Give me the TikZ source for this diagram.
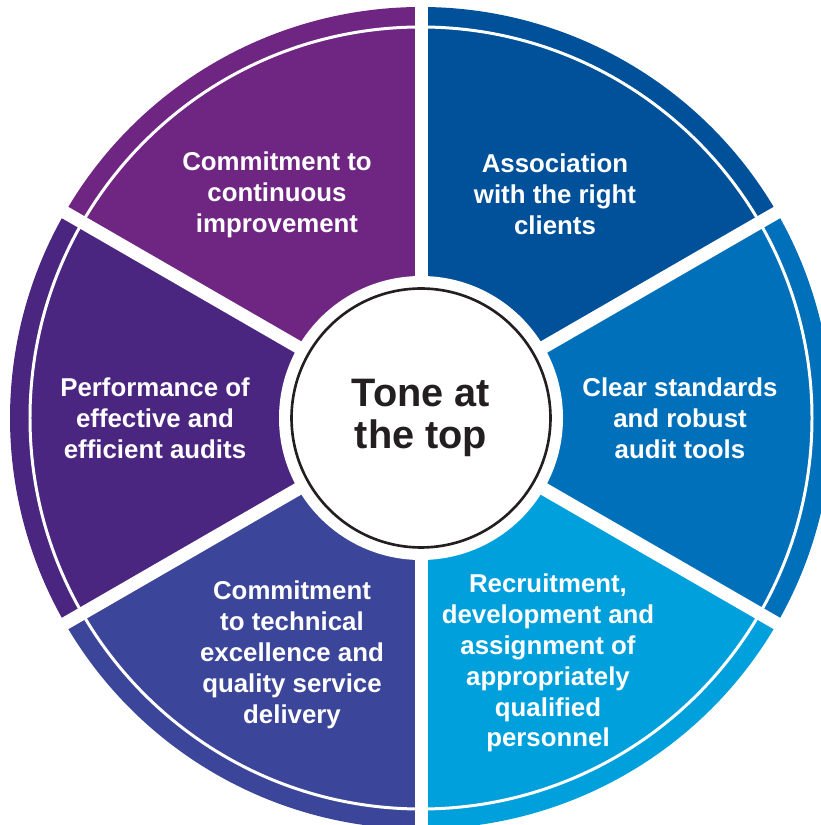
\documentclass[tikz,border=0pt]{standalone}
\usepackage{fontspec}
\setmainfont{Liberation Sans}
\definecolor{ImprovePurple}{RGB}{111, 38, 131}
\definecolor{ClientBlue}{RGB}{0, 80, 154}
\definecolor{ToolsBlue}{RGB}{0, 112, 186}
\definecolor{PeopleBlue}{RGB}{0, 160, 220}
\definecolor{QualityIndigo}{RGB}{59, 69, 153}
\definecolor{AuditViolet}{RGB}{74, 38, 128}
\definecolor{HubInk}{RGB}{35, 31, 32}

\begin{document}
\begin{tikzpicture}[x=0.02cm, y=0.02cm]
        % --- Styles ---
        \tikzstyle{segtext}=[text=white, align=center, font=\fontsize{14.7}{17.6}\selectfont\bfseries]
        \tikzstyle{hubtext}=[text=HubInk, align=center, font=\fontsize{22.6}{23.4}\selectfont\bfseries]

        \useasboundingbox (0,0) rectangle (821,825);
        \clip (0,0) rectangle (821,825);
        \coordinate (c) at (421,407);

        % --- 1. Coloured wheel ---
        \foreach \from/\to/\col in {30/90/ClientBlue, -30/30/ToolsBlue, -90/-30/PeopleBlue,
                                    -150/-90/QualityIndigo, 150/210/AuditViolet, 90/150/ImprovePurple}
            \fill[\col] (c) -- ++(\from:411) arc[start angle=\from, end angle=\to, radius=411] -- cycle;

        % thin ring near the rim
        \draw[white, line width=1.7pt] (c) circle[radius=391];

        % white gaps between the segments
        \foreach \a in {30,90,...,330}
            \draw[white, line width=7.4pt] (c) -- ++(\a:430);

        % --- 2. Hub ---
        \fill[white] (c) circle[radius=142];
        \node[draw=HubInk, circle, line width=1.5pt, minimum size=5.18cm, inner sep=0pt, hubtext] (hub) at (c) {Tone at\\the top};

        % --- 3. Segment labels ---
        \node[segtext] (client)  at (555,631) {Association\\with the right\\clients};
        \node[segtext] (tools)   at (680,407) {Clear standards\\and robust\\audit tools};
        \node[segtext] (people)  at (548,162) {Recruitment,\\development and\\assignment of\\appropriately\\qualified\\personnel};
        \node[segtext] (quality) at (292,170) {Commitment\\to technical\\excellence and\\quality service\\delivery};
        \node[segtext] (audits)  at (155,407) {Performance of\\effective and\\efficient audits};
        \node[segtext] (improve) at (277,630) {Commitment to\\continuous\\improvement};

    \end{tikzpicture}
\end{document}
